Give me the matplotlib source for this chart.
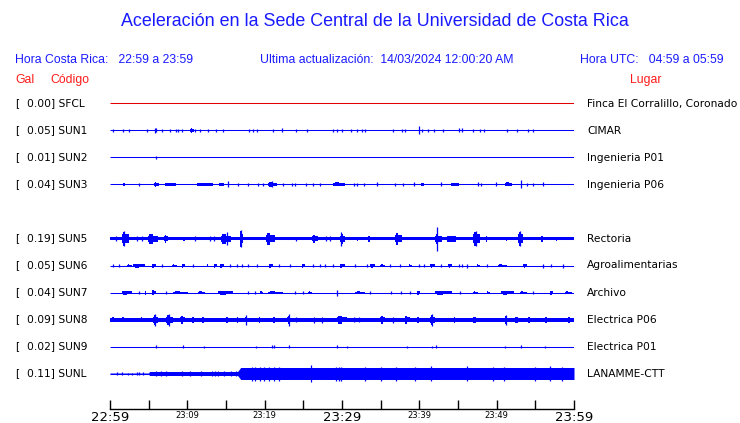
# ============================================================
# ACELERACION SEDE CENTRAL UCR - STATION TRACES (1 HOUR)
# ============================================================
#
# Produces:
#   - out.png
#
# Each trace is drawn from:
#   - a noise envelope (minute, half width)
#   - burst windows (start minute, end minute, half width)
#   - single spikes (minute, half width)
# Half widths are in screen units, the row spacing is 27.
#
# ============================================================

import matplotlib.pyplot as plt


# ============================================================
# 1. DATA
# ============================================================

TITLE = "Aceleración en la Sede Central de la Universidad de Costa Rica"
HORA_CR = "Hora Costa Rica:   22:59 a 23:59"
ULTIMA = "Ultima actualización:  14/03/2024 12:00:20 AM"
HORA_UTC = "Hora UTC:   04:59 a 05:59"

codes = ["SFCL", "SUN1", "SUN2", "SUN3", "SUN5", "SUN6", "SUN7", "SUN8", "SUN9", "SUNL"]
gals = [0.00, 0.05, 0.01, 0.04, 0.19, 0.05, 0.04, 0.09, 0.02, 0.11]
lugares = ["Finca El Corralillo, Coronado", "CIMAR", "Ingenieria P01", "Ingenieria P06",
           "Rectoria", "Agroalimentarias", "Archivo", "Electrica P06",
           "Electrica P01", "LANAMME-CTT"]
rows = [0, 1, 2, 3, 5, 6, 7, 8, 9, 10]

tick_minutes = [0, 5, 10, 15, 20, 25, 30, 35, 40, 45, 50, 55, 60]
tick_labels = ["22:59", "", "23:09", "", "23:19", "", "23:29", "", "23:39", "", "23:49", "", "23:59"]
big_labels = ["22:59", "23:29", "23:59"]

noise = {
    "SFCL": [(0, 0.5), (60, 0.5)],
    "SUN1": [(0, 0.5), (60, 0.5)],
    "SUN2": [(0, 0.5), (60, 0.5)],
    "SUN3": [(0, 0.5), (60, 0.5)],
    "SUN5": [(0, 1.7), (60, 1.7)],
    "SUN6": [(0, 0.5), (60, 0.5)],
    "SUN7": [(0, 0.5), (60, 0.5)],
    "SUN8": [(0, 2.0), (60, 2.0)],
    "SUN9": [(0, 0.5), (60, 0.5)],
    "SUNL": [(0, 0.5), (5.0, 0.5), (5.1, 2.0), (16.5, 2.0), (16.9, 6.0), (60, 6.0)],
}

bursts = {
    "SFCL": [],
    "SUN1": [(10.4, 10.9, 2.5)],
    "SUN2": [],
    "SUN3": [(1.6, 2.2, 1.5), (5.7, 6.3, 2.5), (6.5, 10.6, 1.5), (11.2, 13.3, 1.8),
             (13.8, 15.6, 1.5), (20.4, 21.6, 2.5), (28.8, 30.4, 2), (40.1, 41.1, 1.5),
             (43.6, 46.6, 1.5), (51.1, 52.0, 2)],
    "SUN5": [(1.5, 2.4, 7), (4.9, 6.2, 5), (7.0, 7.5, 4), (9.3, 10.0, 2), (14.3, 15.6, 5),
             (16.8, 17.2, 8), (20.2, 21.3, 6), (26.1, 26.9, 4), (29.8, 30.4, 5),
             (31.9, 32.3, 2), (33.3, 34.0, 3), (36.8, 37.7, 6), (42.0, 42.9, 5),
             (43.0, 46.5, 3), (47.0, 47.8, 7), (48.6, 49.0, 3), (51.1, 51.5, 2),
             (52.8, 53.4, 7), (55.7, 56.2, 3), (57.6, 57.9, 2)],
    "SUN6": [(2.2, 2.8, 1.5), (3.0, 4.5, 2), (5.4, 6.0, 2), (8.0, 8.6, 1.5), (9.3, 9.7, 2),
             (12.5, 12.7, 2), (13.4, 13.8, 2), (14.2, 14.7, 2), (20.5, 21.1, 2),
             (24.8, 25.2, 2), (29.7, 30.4, 2), (33.6, 34.3, 2), (34.9, 35.6, 1.5),
             (38.6, 39.0, 1.5), (41.4, 42.0, 2), (43.7, 44.2, 2), (47.4, 47.8, 1.5),
             (50.2, 51.3, 1.5), (53.4, 53.9, 2)],
    "SUN7": [(1.5, 2.8, 2), (4.5, 4.7, 2), (5.4, 6.0, 2.5), (8.1, 10.1, 1.5),
             (11.4, 12.3, 1.5), (14.0, 15.9, 2), (19.4, 19.8, 1.5), (20.4, 22.4, 1.5),
             (25.6, 26.1, 1.5), (29.3, 29.5, 2.5), (31.7, 33.0, 1.5), (39.7, 40.1, 2),
             (42.0, 44.2, 2), (46.9, 47.6, 1.5), (48.7, 49.1, 1.5), (50.6, 52.2, 2),
             (53.0, 53.9, 1.5), (56.9, 57.3, 2), (58.8, 59.7, 1.5)],
    "SUN8": [(0.2, 0.9, 2.5), (1.5, 2.0, 2.5), (3.9, 4.5, 2.5), (5.6, 6.2, 5), (7.3, 8.2, 5),
             (9.1, 9.7, 4), (10.6, 11.0, 3), (11.9, 12.3, 3), (14.9, 15.5, 3),
             (16.4, 16.6, 3), (17.5, 17.7, 4), (19.2, 19.6, 3), (20.9, 21.8, 3),
             (22.9, 23.3, 4), (29.3, 30.6, 4), (34.9, 35.6, 4), (38.1, 38.8, 4),
             (39.7, 40.1, 3), (41.4, 42.0, 5), (44.4, 44.8, 3), (46.8, 47.8, 3),
             (51.1, 51.3, 4), (52.2, 53.4, 3), (54.0, 54.5, 3), (56.2, 56.9, 3),
             (59.2, 59.7, 3)],
    "SUN9": [],
    "SUNL": [],
}

spikes = {
    "SFCL": [],
    "SUN1": [(0.4, 1.5), (1.7, 1.5), (2.4, 1.5), (4.8, 1.5), (5.8, 2.5), (6.0, 2), (6.7, 1.5),
             (7.8, 1.5), (8.5, 1.5), (8.8, 1.5), (9.3, 1.5), (11.0, 1.5), (11.6, 1.5),
             (12.7, 1.5), (13.7, 1.5), (14.6, 1.5), (18.0, 1.5), (18.5, 1.5), (19.0, 1.5),
             (21.1, 1.5), (22.2, 2), (24.0, 1.5), (25.5, 1.5), (28.9, 1.5), (29.3, 1.5),
             (30.0, 1.5), (31.1, 1.5), (31.9, 1.5), (32.6, 1.5), (33.0, 1.5), (36.6, 1.5),
             (37.8, 1.5), (38.2, 1.5), (40.0, 4), (40.4, 1.5), (41.1, 1.5), (41.9, 1.5),
             (43.1, 1.5), (45.1, 2), (45.5, 2), (47.0, 1.5), (47.8, 1.5), (48.3, 1.5),
             (51.3, 1.5), (52.6, 1.5), (54.1, 1.5), (54.7, 1.5)],
    "SUN2": [(6.0, 1.5)],
    "SUN3": [(3.7, 1.5), (15.3, 3), (16.6, 1.5), (17.9, 1.5), (19.2, 1.5), (19.8, 1.5),
             (21.0, 3), (22.4, 1.5), (23.5, 1.5), (23.9, 1.5), (25.3, 1.5), (26.3, 1.5),
             (27.2, 1.5), (31.5, 1.5), (31.9, 1.5), (32.8, 1.5), (34.5, 2), (36.9, 1.5),
             (37.9, 1.5), (39.3, 2), (42.8, 2), (47.6, 2), (48.0, 1.5), (49.9, 2),
             (53.2, 4), (53.9, 1.5), (54.7, 1.5), (56.0, 2)],
    "SUN5": [(0.8, 2.5), (1.8, 7.5), (3.5, 2.5), (4.1, 2.5), (11.0, 2.5), (12.9, 2.5),
             (13.5, 2.5), (15.1, 6.5), (16.9, 8.5), (24.0, 2), (27.9, 2.5), (28.4, 2.5),
             (29.9, 7), (42.3, 12), (47.3, 7.5), (53.0, 7.5)],
    "SUN6": [(0.4, 1.5), (1.1, 1.5), (6.7, 1.5), (10.7, 1.5), (15.5, 1.5), (16.4, 1.5),
             (17.1, 1.5), (17.8, 1.5), (19.0, 1.5), (21.9, 1.5), (23.3, 1.5), (26.3, 1.5),
             (27.1, 1.5), (27.8, 1.5), (28.8, 1.5), (31.7, 1.5), (33.2, 1.5), (36.2, 1.5),
             (37.5, 1.5), (40.0, 1.5), (40.6, 1.5), (42.8, 1.5), (45.1, 1.5), (45.5, 1.5),
             (46.1, 2), (48.7, 1.5), (56.0, 2), (57.0, 1.5), (58.6, 2)],
    "SUN7": [(3.7, 1.5), (7.2, 1.5), (17.9, 1.5), (18.7, 1.5), (23.9, 1.5), (24.9, 1.5),
             (29.4, 3), (33.6, 1.5), (36.4, 1.5), (37.6, 1.5), (38.8, 1.5), (45.3, 1.5),
             (54.7, 1.5)],
    "SUN8": [(5.8, 6), (7.6, 6), (17.6, 5), (23.1, 6), (24.0, 2.5), (26.4, 3), (27.4, 3),
             (31.5, 2.5), (32.2, 2.5), (36.6, 3), (41.6, 6), (51.2, 5)],
    "SUN9": [(6.0, 1.5), (9.4, 1.5), (12.1, 1), (18.9, 1), (21.0, 1.5), (21.2, 1.5),
             (23.2, 1.5), (29.3, 1.5), (30.6, 1), (38.4, 1), (41.6, 1), (42.1, 1.5),
             (51.1, 1), (53.2, 1.5), (56.2, 1)],
    "SUNL": [(0.95, 1.5), (1.55, 1.5), (2.3, 1), (2.8, 1), (3.5, 1.5), (3.8, 1.5),
             (4.3, 1.5), (6.0, 2.5), (6.6, 2.5), (7.2, 2.5), (9.3, 2.5), (10.3, 2.5),
             (11.8, 2.5), (13.2, 2.5), (13.6, 2.5), (14.0, 2.5), (14.8, 2.5), (15.6, 2.5),
             (16.3, 2.5), (18.3, 7), (18.8, 7), (19.4, 7), (19.9, 7), (20.6, 7), (21.2, 7),
             (21.8, 7), (26.0, 8.5), (29.2, 7), (29.6, 7), (29.9, 7), (33.0, 7), (35.0, 7),
             (37.0, 7), (39.5, 7), (41.5, 7.5), (46.1, 7.5), (49.5, 7), (51.0, 7),
             (55.0, 7), (56.9, 7.5), (58.5, 7)],
}


# ============================================================
# 2. STYLE
# ============================================================

W_PX, H_PX = 740, 423
ROW0_Y = 103.5          # half pixel offset keeps 1 px lines crisp
ROW_GAP = 27
AXIS_Y = 409
TOP_Y = 90
X0_PX, X1_PX = 110, 574

TRACE_BLUE = "#0000ff"
TRACE_RED = "#e00000"
TEXT_BLUE = "#1a1aff"
TEXT_RED = "#ff1a1a"

HEAD_FONT = ["Liberation Sans", "DejaVu Sans"]
LABEL_FONT = ["DejaVu Sans"]
LABEL_SIZE = 7.7


def fx(x):
    return x / W_PX


def fy(y):
    return 1 - y / H_PX


# ============================================================
# 3. FIGURE
# ============================================================

fig = plt.figure(figsize=(W_PX / 100, H_PX / 100), dpi=100)
fig.patch.set_facecolor("white")

ax = fig.add_axes([fx(X0_PX), fy(AXIS_Y), (X1_PX - X0_PX) / W_PX, (AXIS_Y - TOP_Y) / H_PX])
ax.set_xlim(0, 60)
ax.set_ylim(AXIS_Y, TOP_Y)

for code, row in zip(codes, rows):
    y0 = ROW0_Y + ROW_GAP * row
    color = TRACE_RED if code == "SFCL" else TRACE_BLUE

    # centre line
    ax.plot([0, 60], [y0, y0], color=color, lw=0.75, solid_capstyle="butt")

    # noise band
    env_t = [p[0] for p in noise[code]]
    env_w = [p[1] for p in noise[code]]
    if max(env_w) > 0.5:
        ax.fill_between(env_t, [y0 - w for w in env_w], [y0 + w for w in env_w],
                        color=color, lw=0, antialiased=False)

    # burst windows: wide block with a taller core near the onset
    for t0, t1, amp in bursts[code]:
        w = t1 - t0
        ax.fill_between([t0, t1], y0 - 0.6 * amp, y0 + 0.6 * amp, color=color, lw=0,
                        antialiased=False)
        ax.fill_between([t0 + 0.15 * w, t0 + 0.5 * w], y0 - amp, y0 + amp, color=color,
                        lw=0, antialiased=False)

    # single spikes
    if spikes[code]:
        ax.vlines([s[0] for s in spikes[code]],
                  [y0 - s[1] for s in spikes[code]],
                  [y0 + s[1] for s in spikes[code]],
                  color=color, lw=0.9)

# time axis
for side in ["top", "left", "right"]:
    ax.spines[side].set_visible(False)
ax.spines["bottom"].set_color("black")
ax.spines["bottom"].set_linewidth(1.0)
ax.set_yticks([])
ax.set_xticks(tick_minutes)
ax.set_xticklabels(tick_labels, family=LABEL_FONT)
ax.tick_params(axis="x", direction="in", length=6.5, width=1.0, color="black", pad=1.5)
for lab in ax.get_xticklabels():
    lab.set_fontsize(9.5 if lab.get_text() in big_labels else 6)


# ============================================================
# 4. TEXTS
# ============================================================

fig.text(fx(375), fy(22), TITLE, color=TEXT_BLUE, fontsize=12.9, family=HEAD_FONT,
         ha="center", va="center")

fig.text(fx(15), fy(60), HORA_CR, color=TEXT_BLUE, fontsize=8.8, family=HEAD_FONT,
         ha="left", va="center")
fig.text(fx(260), fy(60), ULTIMA, color=TEXT_BLUE, fontsize=8.8, family=HEAD_FONT,
         ha="left", va="center")
fig.text(fx(580), fy(60), HORA_UTC, color=TEXT_BLUE, fontsize=8.8, family=HEAD_FONT,
         ha="left", va="center")

fig.text(fx(15), fy(80), "Gal", color=TEXT_RED, fontsize=8.8, family=HEAD_FONT,
         ha="left", va="center")
fig.text(fx(50), fy(80), "Código", color=TEXT_RED, fontsize=8.8, family=HEAD_FONT,
         ha="left", va="center")
fig.text(fx(630), fy(80), "Lugar", color=TEXT_RED, fontsize=8.8, family=HEAD_FONT,
         ha="left", va="center")

for code, gal, lugar, row in zip(codes, gals, lugares, rows):
    y0 = ROW0_Y + ROW_GAP * row
    fig.text(fx(15), fy(y0), "[", color="black", fontsize=LABEL_SIZE, family=LABEL_FONT,
             ha="left", va="center")
    fig.text(fx(27), fy(y0), f"{gal:.2f}] {code}", color="black", fontsize=LABEL_SIZE,
             family=LABEL_FONT, ha="left", va="center")
    fig.text(fx(587), fy(y0), lugar, color="black", fontsize=LABEL_SIZE, family=LABEL_FONT,
             ha="left", va="center")

fig.savefig("out.png", dpi=100)
